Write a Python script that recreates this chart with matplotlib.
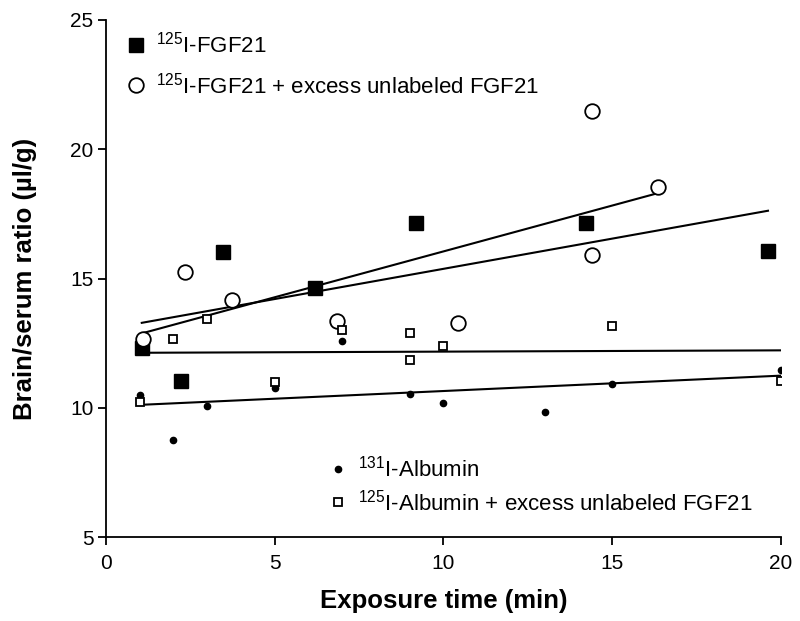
import numpy as np
import matplotlib
matplotlib.use("Agg")
import matplotlib.pyplot as plt
from matplotlib.lines import Line2D

plt.rcParams["font.family"] = ["Liberation Sans", "DejaVu Sans"]
plt.rcParams["mathtext.default"] = "regular"

# 125I-FGF21
fgf_x = [1.06, 2.22, 3.46, 6.19, 9.19, 14.22, 19.62]
fgf_y = [12.32, 11.03, 16.04, 14.62, 17.15, 17.13, 16.05]
# 125I-FGF21 + excess unlabeled FGF21
fgf_ex_x = [1.09, 2.33, 3.72, 6.85, 10.44, 14.39, 14.39, 16.35]
fgf_ex_y = [12.65, 15.26, 14.17, 13.36, 13.29, 21.49, 15.92, 18.54]
# 131I-Albumin
alb_x = [1, 2, 3, 5, 7, 9, 10, 13, 15, 20]
alb_y = [10.48, 8.75, 10.09, 10.76, 12.58, 10.54, 10.17, 9.84, 10.93, 11.47]
# 125I-Albumin + excess unlabeled FGF21
alb_ex_x = [1, 2, 3, 5, 7, 9, 9, 10, 15, 20]
alb_ex_y = [10.21, 12.66, 13.42, 11.01, 13.00, 12.88, 11.85, 12.39, 13.17, 11.05]

fig = plt.figure(figsize=(8, 6.21), dpi=100)
ax = fig.add_axes([0.1325, 0.135, 0.8435, 0.833])


def fit_line(xs, ys):
    k, b = np.polyfit(xs, ys, 1)
    xx = np.array([min(xs), max(xs)])
    ax.plot(xx, k * xx + b, color="black", lw=1.5, zorder=1)


for xs, ys in [(fgf_x, fgf_y), (fgf_ex_x, fgf_ex_y), (alb_x, alb_y), (alb_ex_x, alb_ex_y)]:
    fit_line(xs, ys)

ax.plot(fgf_x, fgf_y, "s", color="black", ms=10, ls="none", zorder=3)
ax.plot(fgf_ex_x, fgf_ex_y, "o", mfc="white", mec="black", mew=1.3, ms=10.5, ls="none", zorder=4)
ax.plot(alb_x, alb_y, "o", color="black", ms=4.5, ls="none", zorder=3)
ax.plot(alb_ex_x, alb_ex_y, "s", mfc="white", mec="black", mew=1.3, ms=5.5, ls="none", zorder=4)

ax.set_xlim(0, 20)
ax.set_ylim(5, 25)
ax.set_xticks([0, 5, 10, 15, 20])
ax.set_yticks([5, 10, 15, 20, 25])
ax.spines[["top", "right"]].set_visible(False)
ax.spines[["left", "bottom"]].set_linewidth(1.3)
ax.tick_params(labelsize=15, width=1.3, length=6, direction="out")
ax.tick_params(axis="x", pad=6)
ax.tick_params(axis="y", pad=3)
ax.set_xlabel("Exposure time (min)", fontsize=18.5, weight="bold", labelpad=12)
ax.set_ylabel("Brain/serum ratio (\u00b5l/g)", fontsize=18.5, weight="bold", labelpad=24)

h1 = [Line2D([], [], marker="s", color="black", ms=10, ls="none"),
      Line2D([], [], marker="o", mfc="white", mec="black", mew=1.3, ms=10.5, ls="none")]
leg1 = ax.legend(h1, ["$^{125}$I-FGF21", "$^{125}$I-FGF21 + excess unlabeled FGF21"],
                 loc="upper left", bbox_to_anchor=(0.028, 0.977), frameon=False,
                 fontsize=16, handlelength=1.0, handletextpad=0.4, labelspacing=0.65,
                 borderaxespad=0, borderpad=0)
ax.add_artist(leg1)

h2 = [Line2D([], [], marker="o", color="black", ms=4.5, ls="none"),
      Line2D([], [], marker="s", mfc="white", mec="black", mew=1.3, ms=5.5, ls="none")]
ax.legend(h2, ["$^{131}$I-Albumin", "$^{125}$I-Albumin + excess unlabeled FGF21"],
          loc="lower left", bbox_to_anchor=(0.327, 0.0425), frameon=False,
          fontsize=16, handlelength=1.0, handletextpad=0.4, labelspacing=0.35,
          borderaxespad=0, borderpad=0)

fig.savefig("out.png", dpi=100, facecolor="white")
